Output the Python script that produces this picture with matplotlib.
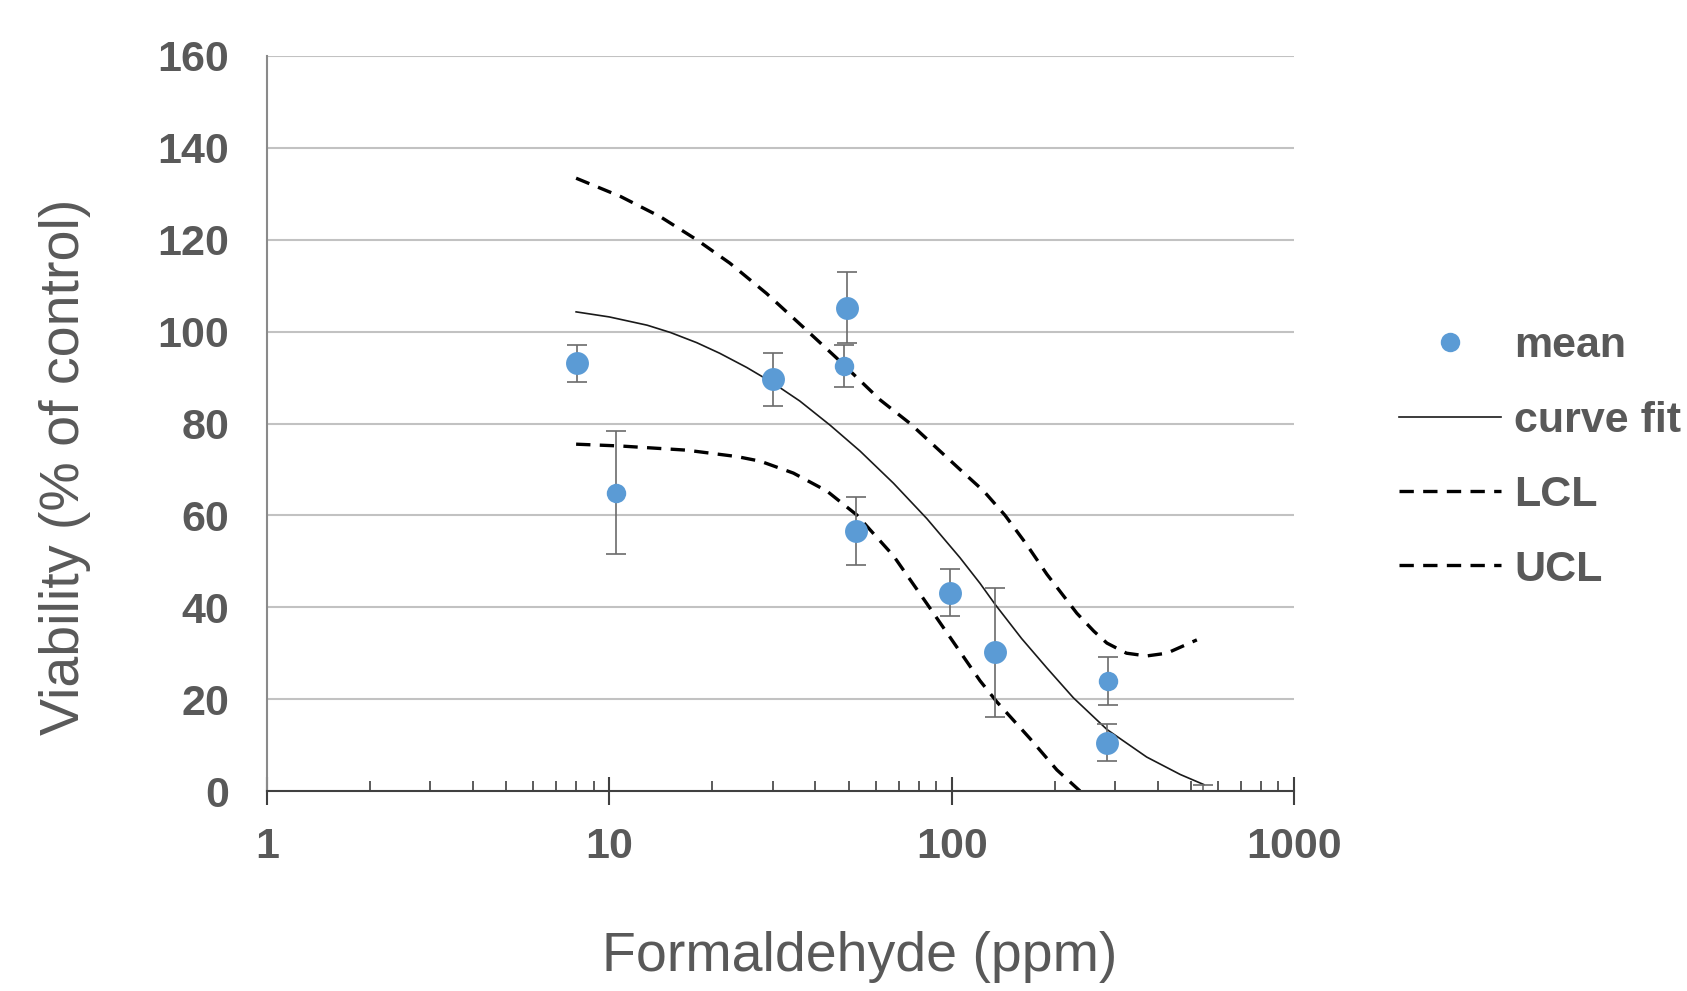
import matplotlib
matplotlib.use('Agg')
import matplotlib.pyplot as plt
from matplotlib.ticker import FixedLocator, LogLocator, NullFormatter

plt.rcParams['font.family'] = ['Liberation Sans', 'DejaVu Sans']

# measured means with error bars (ppm, % of control)
mean_x = [8.07, 10.47, 30.1, 49.4, 48.5, 52.6, 98.9, 133.9, 285.6, 284, 542]
mean_y = [93.1, 64.9, 89.6, 105.2, 92.5, 56.6, 43.2, 30.2, 24.0, 10.5, 0]
mean_err = [4.0, 13.4, 5.7, 7.7, 4.6, 7.3, 5.2, 14.0, 5.2, 4.0, 1.3]

# curve fit
fit_x = [8, 10, 12.9, 15.1, 18, 21, 25.2, 30.1, 36, 44.2, 54, 67.6, 84.6, 105.7,
         121, 134, 160, 189.6, 226.6, 284, 371, 465, 545]
fit_y = [104.3, 103.2, 101.4, 99.8, 97.6, 95.3, 92.2, 88.8, 84.9, 79.6, 74.0, 67.0,
         59.3, 50.8, 45.2, 40.6, 33.2, 26.8, 20.3, 13.4, 7.4, 3.6, 1.4]

# confidence limits
lcl_x = [8, 10.8, 16.8, 23.6, 27.6, 34.5, 43.2, 52.8, 67.6, 84.6, 121, 135.5,
         169.4, 202.8, 237]
lcl_y = [75.5, 75.1, 74.2, 72.8, 71.8, 69.2, 65.3, 60.1, 51.2, 40.8, 24.0, 19.4,
         11.4, 4.6, 0]
ucl_x = [8, 10.8, 14.1, 18, 22.5, 28.8, 37.7, 46.2, 61.9, 75.6, 105.7, 124,
         143.2, 165, 189.6, 232, 260, 284, 324, 371, 425, 520]
ucl_y = [133.4, 129.4, 125.0, 120.0, 114.9, 108.3, 100.3, 94.2, 85.1, 80.0, 70.0,
         65.3, 60.0, 53.8, 47.2, 38.7, 34.8, 32.2, 30.0, 29.4, 30.0, 32.9]

x_ticks = [1, 10, 100, 1000]
y_ticks = [0, 20, 40, 60, 80, 100, 120, 140, 160]

# marker size per point (smaller dots in the original)
dot_size = [16.5, 14, 16.5, 16.5, 14, 16.5, 16.5, 16.5, 14, 16.5, 0]

text_col = '#595959'
blue = '#5b9bd5'

fig = plt.figure(figsize=(16.87, 9.91), dpi=100)
ax = fig.add_axes([0.1582, 0.2018, 0.6089, 0.7417])

ax.set_xscale('log')
ax.set_xlim(1, 1000)
ax.set_ylim(0, 160)

for v in y_ticks[1:]:
    ax.axhline(v, color='#c2c2c2', lw=1.5, zorder=0)

ax.errorbar(mean_x, mean_y, yerr=mean_err, fmt='none', ecolor='#6b6b6b',
            elinewidth=1.2, capsize=7, capthick=1.2, zorder=3)
for xx, yy, ms in zip(mean_x, mean_y, dot_size):
    if ms > 0:
        ax.plot(xx, yy, 'o', color=blue, ms=ms, mec='none', zorder=4)
h_mean, = ax.plot([], [], 'o', color=blue, ms=14, mec='none')

h_fit, = ax.plot(fit_x, fit_y, color='#1a1a1a', lw=1.2, zorder=2)
h_lcl, = ax.plot(lcl_x, lcl_y, color='black', lw=2.4, dashes=(4.3, 2.8), zorder=2)
h_ucl, = ax.plot(ucl_x, ucl_y, color='black', lw=2.4, dashes=(4.3, 2.8), zorder=2)

for s in ['top', 'right']:
    ax.spines[s].set_visible(False)
ax.spines['left'].set_color('#8a8a8a')
ax.spines['left'].set_linewidth(1.5)
ax.spines['bottom'].set_color('#404040')
ax.spines['bottom'].set_linewidth(1.5)
ax.spines['bottom'].set_zorder(5)

ax.xaxis.set_major_locator(FixedLocator(x_ticks))
ax.set_xticklabels([str(t) for t in x_ticks])
ax.xaxis.set_minor_locator(LogLocator(base=10, subs=range(2, 10)))
ax.xaxis.set_minor_formatter(NullFormatter())
ax.tick_params(axis='x', which='major', direction='inout', length=19.5, width=1.5,
               color='#404040', pad=16, labelsize=31, labelcolor=text_col)
ax.tick_params(axis='x', which='minor', direction='in', length=7, width=1.2,
               color='#404040')
ax.set_yticks(y_ticks)
ax.tick_params(axis='y', length=0, pad=27, labelsize=31, labelcolor=text_col)
for lab in ax.get_xticklabels() + ax.get_yticklabels():
    lab.set_fontweight('bold')

ax.set_xlabel('Formaldehyde (ppm)', fontsize=40, color=text_col)
ax.xaxis.label.set_va('center')
ax.xaxis.set_label_coords(0.577, -0.226)
ax.set_ylabel('Viability (% of control)', fontsize=40, color=text_col)
ax.yaxis.label.set_va('center')
ax.yaxis.set_label_coords(-0.1965, 0.441)

fig.legend([h_mean, h_fit, h_lcl, h_ucl], ['mean', 'curve fit', 'LCL', 'UCL'],
           loc='center left', bbox_to_anchor=(0.8293, 0.538), frameon=False,
           borderpad=0, borderaxespad=0, handlelength=2.37, handletextpad=0.3,
           labelspacing=0.8, prop={'size': 31, 'weight': 'bold'},
           labelcolor=text_col)

fig.savefig('out.png', dpi=100)
